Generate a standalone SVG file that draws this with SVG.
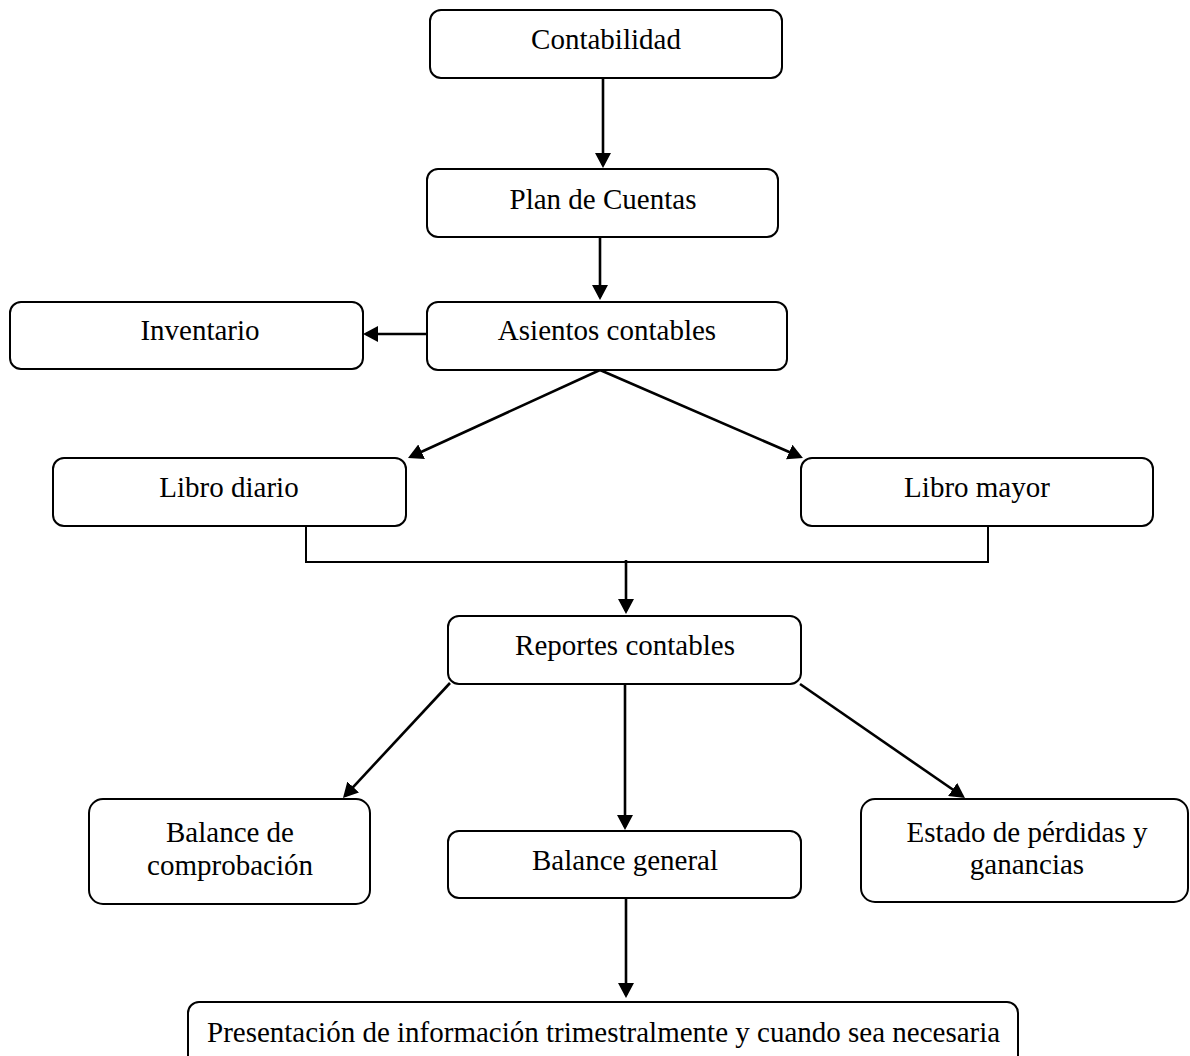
<svg xmlns="http://www.w3.org/2000/svg" width="1190" height="1056" viewBox="0 0 1190 1056">
<style>
.box{fill:#fff;stroke:#000;stroke-width:2}
.t{font-family:"Liberation Serif","Times New Roman",serif;font-size:29px;fill:#000;text-anchor:middle}
.c{fill:none;stroke:#000;stroke-width:2.6}
.e{fill:none;stroke:#000;stroke-width:2}
</style>
<defs>
<marker id="ah" markerUnits="userSpaceOnUse" markerWidth="16" markerHeight="16" refX="12" refY="8" orient="auto">
<path d="M0,0 L15,8 L0,16 z" fill="#000"/>
</marker>
</defs>
<rect width="1190" height="1056" fill="#fff"/>
<g id="connectors">
<line class="c" x1="603" y1="78" x2="603" y2="165" marker-end="url(#ah)"/>
<line class="c" x1="600" y1="237" x2="600" y2="297" marker-end="url(#ah)"/>
<line class="c" x1="427" y1="334" x2="366" y2="334" marker-end="url(#ah)"/>
<line class="c" x1="600" y1="370" x2="410.7" y2="456.7" marker-end="url(#ah)"/>
<line class="c" x1="600" y1="370" x2="800.2" y2="456.8" marker-end="url(#ah)"/>
<path class="e" d="M306,526 V562 H988 V526"/>
<line class="c" x1="626" y1="560" x2="626" y2="611" marker-end="url(#ah)"/>
<line class="c" x1="450" y1="683" x2="345" y2="795.8" marker-end="url(#ah)"/>
<line class="c" x1="625" y1="684" x2="625" y2="827" marker-end="url(#ah)"/>
<line class="c" x1="800" y1="684" x2="962.5" y2="796.3" marker-end="url(#ah)"/>
<line class="c" x1="626" y1="897" x2="626" y2="995" marker-end="url(#ah)"/>
</g>
<g id="contabilidad">
<rect class="box" x="430" y="10" width="352" height="68" rx="11"/>
<text class="t" x="606" y="49">Contabilidad</text>
</g>
<g id="plan-de-cuentas">
<rect class="box" x="427" y="169" width="351" height="68" rx="11"/>
<text class="t" x="603" y="209">Plan de Cuentas</text>
</g>
<g id="asientos-contables">
<rect class="box" x="427" y="302" width="360" height="68" rx="11"/>
<text class="t" x="607" y="340">Asientos contables</text>
</g>
<g id="inventario">
<rect class="box" x="10" y="302" width="353" height="67" rx="11"/>
<text class="t" x="200" y="340">Inventario</text>
</g>
<g id="libro-diario">
<rect class="box" x="53" y="458" width="353" height="68" rx="11"/>
<text class="t" x="229" y="497">Libro diario</text>
</g>
<g id="libro-mayor">
<rect class="box" x="801" y="458" width="352" height="68" rx="11"/>
<text class="t" x="977" y="497">Libro mayor</text>
</g>
<g id="reportes-contables">
<rect class="box" x="448" y="616" width="353" height="68" rx="11"/>
<text class="t" x="625" y="655">Reportes contables</text>
</g>
<g id="balance-de-comprobacion">
<rect class="box" x="89" y="799" width="281" height="105" rx="14"/>
<text class="t" x="230" y="842">Balance de</text>
<text class="t" x="230" y="875">comprobación</text>
</g>
<g id="balance-general">
<rect class="box" x="448" y="831" width="353" height="67" rx="11"/>
<text class="t" x="625" y="870">Balance general</text>
</g>
<g id="estado-perdidas-ganancias">
<rect class="box" x="861" y="799" width="327" height="103" rx="14"/>
<text class="t" x="1027" y="842">Estado de pérdidas y</text>
<text class="t" x="1027" y="874">ganancias</text>
</g>
<g id="presentacion">
<rect class="box" x="188" y="1002" width="830" height="70" rx="11"/>
<text class="t" x="207" y="1042" style="text-anchor:start">Presentación de información trimestralmente y cuando sea necesaria</text>
</g>
</svg>
